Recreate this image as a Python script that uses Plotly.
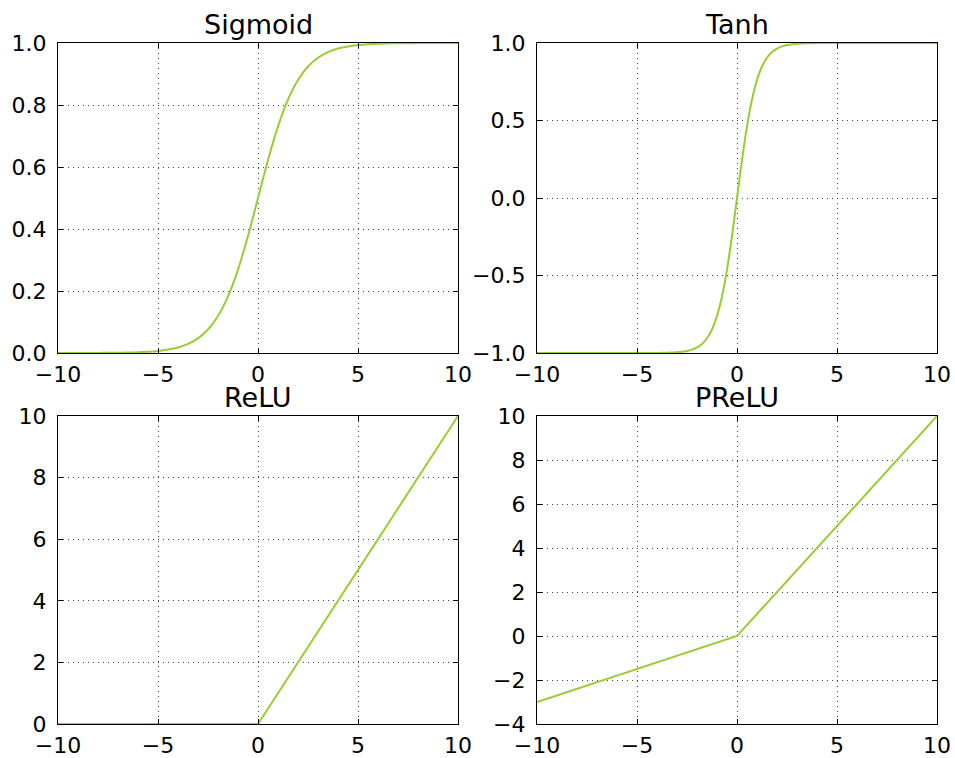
import plotly.graph_objects as go

# ---- data ----
sig_x = [-10, -9.5, -9, -8.5, -8, -7.5, -7, -6.5, -6, -5.5, -5, -4.5, -4, -3.5, -3, -2.5, -2, -1.5, -1, -0.5,
         0, 0.5, 1, 1.5, 2, 2.5, 3, 3.5, 4, 4.5, 5, 5.5, 6, 6.5, 7, 7.5, 8, 8.5, 9, 9.5, 10]
sig_y = [0.0000, 0.0001, 0.0001, 0.0002, 0.0003, 0.0006, 0.0009, 0.0015, 0.0025, 0.0041, 0.0067, 0.0110,
         0.0180, 0.0293, 0.0474, 0.0759, 0.1192, 0.1824, 0.2689, 0.3775, 0.5000, 0.6225, 0.7311, 0.8176,
         0.8808, 0.9241, 0.9526, 0.9707, 0.9820, 0.9890, 0.9933, 0.9959, 0.9975, 0.9985, 0.9991, 0.9994,
         0.9997, 0.9998, 0.9999, 0.9999, 1.0000]

tanh_x = [-10, -8, -6, -5, -4, -3.5, -3, -2.75, -2.5, -2.25, -2, -1.75, -1.5, -1.25, -1, -0.75, -0.5, -0.25,
          0, 0.25, 0.5, 0.75, 1, 1.25, 1.5, 1.75, 2, 2.25, 2.5, 2.75, 3, 3.5, 4, 5, 6, 8, 10]
tanh_y = [-1.0, -1.0, -1.0, -0.9999, -0.9993, -0.9982, -0.9951, -0.9919, -0.9866, -0.9780, -0.9640, -0.9414,
          -0.9051, -0.8483, -0.7616, -0.6351, -0.4621, -0.2449, 0.0, 0.2449, 0.4621, 0.6351, 0.7616, 0.8483,
          0.9051, 0.9414, 0.9640, 0.9780, 0.9866, 0.9919, 0.9951, 0.9982, 0.9993, 0.9999, 1.0, 1.0, 1.0]

relu_x = [-10, 0, 10]
relu_y = [0, 0, 10]

prelu_x = [-10, 0, 10]
prelu_y = [-3, 0, 10]

titles = ["Sigmoid", "Tanh", "ReLU", "PReLU"]
x_ticks = [-10, -5, 0, 5, 10]
y_ticks = [[0.0, 0.2, 0.4, 0.6, 0.8, 1.0],
           [-1.0, -0.5, 0.0, 0.5, 1.0],
           [0, 2, 4, 6, 8, 10],
           [-4, -2, 0, 2, 4, 6, 8, 10]]
y_ranges = [[0, 1], [-1, 1], [0, 10], [-4, 10]]
y_formats = [".1f", ".1f", "d", "d"]

# ---- layout geometry ----
W, H = 955, 758


def xd(a, b):
    return [a / W, b / W]


def yd(top, bottom):
    return [1 - bottom / H, 1 - top / H]


xdoms = [xd(58, 458), xd(537, 937)]
ydoms = [yd(43, 353), yd(416, 724)]

LINE = "#9ACD32"
FONT = dict(family="DejaVu Sans", size=22, color="black")

fig = go.Figure()
series = [(sig_x, sig_y, "spline"), (tanh_x, tanh_y, "spline"), (relu_x, relu_y, "linear"), (prelu_x, prelu_y, "linear")]
annotations = []
for i, (xs, ys, shape) in enumerate(series):
    n = "" if i == 0 else str(i + 1)
    fig.add_trace(go.Scatter(x=xs, y=ys, mode="lines", xaxis="x" + n, yaxis="y" + n,
                             line=dict(color=LINE, width=2, shape=shape, smoothing=0.6),
                             showlegend=False, hoverinfo="skip"))
    col, row = i % 2, i // 2
    common = dict(showline=True, linecolor="black", linewidth=1.3, mirror="ticks",
                  ticks="inside", ticklen=5, tickcolor="black", tickwidth=1,
                  showgrid=True, gridcolor="#444444", gridwidth=1, griddash="1px,4px",
                  zeroline=False, tickfont=FONT, automargin=False)
    fig.update_layout(**{
        "xaxis" + n: dict(domain=xdoms[col], anchor="y" + n, range=[-10, 10],
                          tickvals=x_ticks, ticklabelstandoff=1, **common),
        "yaxis" + n: dict(domain=ydoms[row], anchor="x" + n, range=y_ranges[i],
                          tickvals=y_ticks[i], tickformat=y_formats[i], ticklabelstandoff=6, **common),
    })
    annotations.append(dict(text=titles[i], x=(xdoms[col][0] + xdoms[col][1]) / 2, y=ydoms[row][1],
                            xref="paper", yref="paper", xanchor="center", yanchor="bottom",
                            yshift=1, showarrow=False, font=dict(family="DejaVu Sans", size=27, color="black")))

fig.update_layout(width=W, height=H, margin=dict(l=0, r=0, t=0, b=0),
                  paper_bgcolor="white", plot_bgcolor="white", annotations=annotations)
fig.write_html("out.html", config={"displayModeBar": False},
               post_script="document.body.style.margin='0';document.body.style.overflow='hidden';")
